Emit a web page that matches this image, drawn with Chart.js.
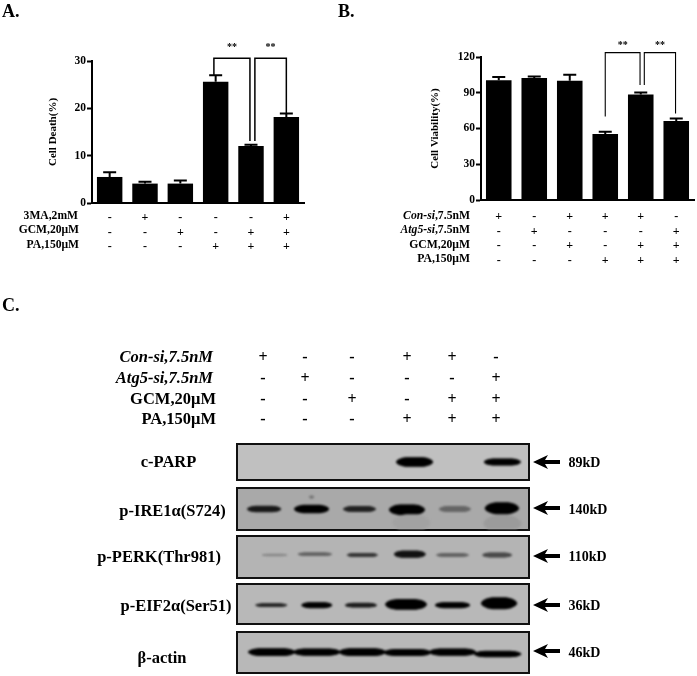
<!DOCTYPE html>
<html>
<head>
<meta charset="utf-8">
<script src="https://cdn.jsdelivr.net/npm/chart.js@4"></script>
<style>
  html, body { margin: 0; background: #fff; }
  body { width: 697px; height: 676px; position: relative; overflow: hidden; font-family: "Liberation Serif", serif; font-weight: bold; color: #000; }
  .t { position: absolute; white-space: nowrap; transform: translateY(-50%); line-height: 1; }
  .r { transform: translate(-100%, -50%); }
  .c { transform: translate(-50%, -50%); }
  canvas.bars { position: absolute; top: 0; filter: blur(0.35px); }
  .panel { position: absolute; left: 236px; width: 290px; border: 2px solid #111; }
  .panel canvas { display: block; filter: blur(1px); }
  svg { position: absolute; left: 0; top: 0; }
</style>
</head>
<body>
<canvas class="bars" id="chartA" width="340" height="270" style="left:0"></canvas>
<canvas class="bars" id="chartB" width="357" height="270" style="left:340px"></canvas>
<svg id="arrows" width="697" height="676"></svg>

<script>
// --- PANEL A ---
const deathValues = [5.5, 4.1, 4.1, 25.6, 12.05, 18.15];
const deathErrors = [1.0, 0.4, 0.65, 1.4, 0.25, 0.75];
const deathTicks = [0, 10, 20, 30];
const row3MA = ['-', '+', '-', '-', '-', '+'];
const rowGcmA = ['-', '-', '+', '-', '+', '+'];
const rowPaA = ['-', '-', '-', '+', '+', '+'];
const deathBrackets = [
  { from: 2.95, to: 3.97, top: 30.6, fromEnd: 26.9, toEnd: 13.1, stars: 33.2 },
  { from: 4.11, to: 5.0, top: 30.6, fromEnd: 13.1, toEnd: 19.0, stars: 33.2 }
];

// --- PANEL B ---
const viabilityValues = [100.4, 102.3, 100.1, 55.3, 88.6, 66.2];
const viabilityErrors = [2.9, 1.4, 5.1, 2.0, 1.7, 2.2];
const viabilityTicks = [0, 30, 60, 90, 120];
const rowConB = ['+', '-', '+', '+', '+', '-'];
const rowAtgB = ['-', '+', '-', '-', '-', '+'];
const rowGcmB = ['-', '-', '+', '-', '+', '+'];
const rowPaB = ['-', '-', '-', '+', '+', '+'];
const viabilityBrackets = [
  { from: 3.0, to: 3.98, top: 123.7, fromEnd: 70, toEnd: 96.4, stars: 131 },
  { from: 4.1, to: 4.98, top: 123.7, fromEnd: 96.4, toEnd: 72.6, stars: 131 }
];

// --- PANEL C ---
const rowConC = ['+', '-', '-', '+', '+', '-'];
const rowAtgC = ['-', '+', '-', '-', '-', '+'];
const rowGcmC = ['-', '-', '+', '-', '+', '+'];
const rowPaC = ['-', '-', '-', '+', '+', '+'];
// band rows: lane, span in lanes, thickness, darkness, height in the panel
const parpBands = [[4.17, 0.78, 8, 1, 0.5], [6.02, 0.78, 6, 1, 0.5]];
const ireBands = [
  [4.1, 0.8, 14, 0.04, 0.84], [6.02, 0.8, 14, 0.08, 0.86], [2.0, 0.1, 2.5, 0.3, 0.2],
  [1, 0.72, 5.5, 0.85, 0.5], [2, 0.74, 7, 1, 0.5], [3.01, 0.69, 5, 0.8, 0.5],
  [4.01, 0.76, 9, 1, 0.52], [5.02, 0.67, 5, 0.4, 0.5], [6.01, 0.72, 10, 1, 0.48]
];
const perkBands = [[1.22, 0.53, 2, 0.25, 0.45], [2.07, 0.72, 3, 0.45, 0.43], [3.07, 0.65, 3.5, 0.7, 0.45], [4.07, 0.67, 6, 0.9, 0.43], [4.97, 0.69, 3, 0.45, 0.45], [5.91, 0.63, 4, 0.6, 0.45]];
const eifBands = [[1.15, 0.67, 3, 0.8, 0.53], [2.11, 0.65, 5, 1, 0.53], [3.04, 0.67, 4, 0.85, 0.53], [3.99, 0.88, 9, 1, 0.51], [4.97, 0.74, 5, 1, 0.53], [5.95, 0.76, 10, 1, 0.48]];
const actinBands = [[1.16, 1, 6.5, 1, 0.49], [2.11, 1, 6, 1, 0.49], [3.07, 1, 6.5, 1, 0.49], [4.02, 1, 6, 1, 0.5], [4.97, 1, 6, 1, 0.49], [5.92, 1, 5.5, 1, 0.54]];
const bandNames = ['c-PARP', 'p-IRE1α(S724)', 'p-PERK(Thr981)', 'p-EIF2α(Ser51)', 'β-actin'];
const bandSizes = ['89kD', '140kD', '110kD', '36kD', '46kD'];

function text(str, x, y, size, cls, html) {
  const el = document.createElement('div');
  el.className = 't ' + (cls || '');
  el.style.left = x + 'px';
  el.style.top = y + 'px';
  el.style.fontSize = size + 'px';
  if (html) el.innerHTML = str; else el.textContent = str;
  document.body.appendChild(el);
}

// error bars and significance brackets, placed through the chart's scales
function annotations(errors, brackets, bracketWidth) {
  return {
    id: 'annotations',
    afterDatasetsDraw(chart) {
      const { ctx, scales: { x, y } } = chart;
      const values = chart.data.datasets[0].data;
      ctx.save();
      ctx.strokeStyle = '#000';
      ctx.lineWidth = 2;
      values.forEach((v, i) => {
        const px = x.getPixelForValue(i);
        const top = y.getPixelForValue(v + errors[i]);
        ctx.beginPath();
        ctx.moveTo(px, y.getPixelForValue(v));
        ctx.lineTo(px, top);
        ctx.moveTo(px - 6.5, top);
        ctx.lineTo(px + 6.5, top);
        ctx.stroke();
      });
      ctx.lineWidth = bracketWidth;
      ctx.fillStyle = '#000';
      ctx.font = 'bold 10px "Liberation Serif"';
      ctx.textAlign = 'center';
      ctx.textBaseline = 'middle';
      brackets.forEach(b => {
        const x1 = x.getPixelForValue(b.from);
        const x2 = x.getPixelForValue(b.to);
        const yt = y.getPixelForValue(b.top);
        ctx.beginPath();
        ctx.moveTo(x1, y.getPixelForValue(b.fromEnd));
        ctx.lineTo(x1, yt);
        ctx.lineTo(x2, yt);
        ctx.lineTo(x2, y.getPixelForValue(b.toEnd));
        ctx.stroke();
        ctx.fillText('**', (x1 + x2) / 2, y.getPixelForValue(b.stars) + 2);
      });
      ctx.restore();
    }
  };
}

function barChart(id, o) {
  const labels = o.values.map((_, i) => o.rows.map(r => r[i]));
  new Chart(document.getElementById(id), {
    type: 'bar',
    data: { labels: labels, datasets: [{ data: o.values, backgroundColor: '#000', barPercentage: 0.72, categoryPercentage: 1 }] },
    options: {
      responsive: false,
      animation: false,
      layout: { padding: { top: o.top, right: o.right, left: 0, bottom: 0 } },
      plugins: { legend: { display: false }, tooltip: { enabled: false } },
      scales: {
        x: {
          grid: { display: false },
          border: { color: '#000', width: 2 },
          afterFit: s => { s.height = o.xHeight; },
          ticks: { color: '#000', padding: o.tickPad, maxRotation: 0, autoSkip: false, font: { family: 'Liberation Serif', weight: 'bold', size: 12, lineHeight: 1.21 } }
        },
        y: {
          min: 0,
          max: o.ticks[o.ticks.length - 1],
          afterBuildTicks: s => { s.ticks = o.ticks.map(v => ({ value: v })); },
          afterFit: s => { s.width = o.yWidth; },
          grid: { drawOnChartArea: false, color: '#000', tickLength: 5, tickWidth: 2 },
          border: { color: '#000', width: 2 },
          ticks: { color: '#000', padding: 1, font: { family: 'Liberation Serif', weight: 'bold', size: 11.5 } },
          title: { display: true, text: o.title, color: '#000', padding: { top: o.titleGap, bottom: 0 }, font: { family: 'Liberation Serif', weight: 'bold', size: 11 } }
        }
      }
    },
    plugins: [annotations(o.errors, o.brackets, o.bracketWidth)]
  });
}

barChart('chartA', { values: deathValues, errors: deathErrors, brackets: deathBrackets, ticks: deathTicks, rows: [row3MA, rowGcmA, rowPaA],
  title: 'Cell Death(%)', top: 61, right: 36, xHeight: 67, yWidth: 92, titleGap: 47, tickPad: 0, bracketWidth: 1.5 });
barChart('chartB', { values: viabilityValues, errors: viabilityErrors, brackets: viabilityBrackets, ticks: viabilityTicks, rows: [rowConB, rowAtgB, rowGcmB, rowPaB],
  title: 'Cell Viability(%)', top: 57, right: 3, xHeight: 70, yWidth: 141, titleGap: 89, tickPad: 2, bracketWidth: 1.1 });

// row names and headings
text('A.', 2, 11, 18);
text('B.', 338, 11, 18);
text('C.', 2, 305, 18);
text('3MA,2mM', 78, 216, 11.6, 'r');
text('GCM,20μM', 79, 230, 11.6, 'r');
text('PA,150μM', 79, 245, 11.6, 'r');
text('<i>Con-si</i>,7.5nM', 470, 216, 11.7, 'r', true);
text('<i>Atg5-si</i>,7.5nM', 470, 230, 11.7, 'r', true);
text('GCM,20μM', 470, 245, 11.7, 'r');
text('PA,150μM', 470, 259, 11.7, 'r');

// treatment grid above the blot
const gridX = [263, 305, 352, 407, 452, 496];
const gridY = [357, 378, 399, 419];
[rowConC, rowAtgC, rowGcmC, rowPaC].forEach((row, r) => row.forEach((s, i) => text(s, gridX[i], gridY[r], 16, 'c')));
text('<i>Con-si,7.5nM</i>', 213, 357, 16.5, 'r', true);
text('<i>Atg5-si,7.5nM</i>', 213, 378, 16.5, 'r', true);
text('GCM,20μM', 216, 399, 16.5, 'r');
text('PA,150μM', 216, 419, 16.5, 'r');

// --- BLOT PANELS ---
const panelTop = [443, 487, 535, 583, 631];
const panelHeight = [34, 40, 40, 38, 39];
const panelGrey = [192, 169, 180, 184, 184];
const panelBands = [parpBands, ireBands, perkBands, eifBands, actinBands];
const nameX = [168.5, 172.5, 159, 176, 162];
const nameY = [462, 511, 557, 606, 658];
const sizeY = [463, 509.5, 556.5, 605.5, 652.5];
const arrowY = [462, 508, 556, 605, 651];
const taper = [[1, 0.3], [0.98, 0.55], [0.95, 0.75], [0.9, 0.95], [0.82, 1.1], [0.7, 1.2]];

panelBands.forEach((bands, p) => {
  const box = document.createElement('div');
  box.className = 'panel';
  box.style.top = panelTop[p] + 'px';
  box.style.height = panelHeight[p] + 'px';
  const g = panelGrey[p];
  box.style.background = 'rgb(' + g + ',' + g + ',' + g + ')';
  const cv = document.createElement('canvas');
  cv.width = 290;
  cv.height = panelHeight[p];
  box.appendChild(cv);
  document.body.appendChild(box);

  // one band is a stack of round-capped strokes, which gives it the tapered ends
  const datasets = [];
  bands.forEach(([lane, span, thick, dark, pos]) => {
    const v = Math.round(g * (1 - dark));
    taper.forEach(([f, h]) => {
      const w = thick * h;
      const half = Math.max(0, span * f / 2 - w / 2 / 47.5);
      datasets.push({
        data: [{ x: lane - half, y: pos }, { x: lane + half, y: pos }],
        showLine: true, pointRadius: 0, borderColor: 'rgb(' + v + ',' + v + ',' + v + ')', borderWidth: w, borderCapStyle: 'round'
      });
    });
  });

  new Chart(cv, {
    type: 'scatter',
    data: { datasets: datasets },
    options: {
      responsive: false,
      animation: false,
      layout: { padding: 0 },
      plugins: { legend: { display: false }, tooltip: { enabled: false } },
      scales: {
        x: { type: 'linear', display: false, min: 0.45, max: 6.56 },
        y: { type: 'linear', display: false, min: 0, max: 1, reverse: true }
      }
    }
  });

  text(bandNames[p], nameX[p], nameY[p], 16.5, 'c');
  text(bandSizes[p], 568.5, sizeY[p], 14);
});

// arrows next to the blot
document.getElementById('arrows').innerHTML = arrowY.map(y =>
  '<path d="M533 ' + y + ' L548 ' + (y - 7) + ' L545 ' + (y - 2) + ' L560 ' + (y - 2) + ' L560 ' + (y + 2) + ' L545 ' + (y + 2) + ' L548 ' + (y + 7) + ' Z" fill="#000"/>'
).join('');
</script>
</body>
</html>
